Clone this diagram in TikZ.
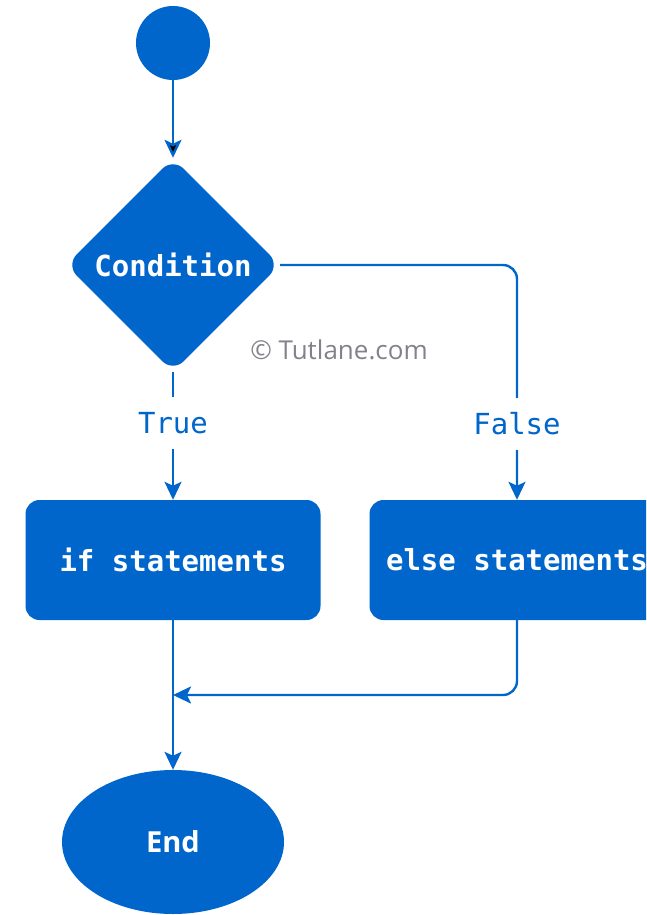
\documentclass[tikz,border=0pt]{standalone}
\usepackage{fontspec}
\usetikzlibrary{arrows.meta,shapes.geometric,positioning}
\newfontfamily\codefont{DejaVu Sans Mono}
\newfontfamily\plainfont{Open Sans}
\definecolor{flowblue}{HTML}{0066CC}
\definecolor{markgray}{HTML}{85818C}
\tikzset{
	block/.style={
		rectangle,
		rounded corners=14pt,
		fill=flowblue, text=white,
		minimum width=295pt, minimum height=120pt,
		inner sep=0pt,
		font=\codefont\bfseries\fontsize{29}{32}\selectfont,
	},
	decision/.style={
		diamond,
		rounded corners=15pt,
		fill=flowblue, text=white,
		minimum size=214pt, inner sep=0pt,
		font=\codefont\bfseries\fontsize{29}{32}\selectfont,
	},
	startdot/.style={
		circle, fill=flowblue,
		minimum size=74pt, inner sep=0pt,
	},
	stop/.style={
		ellipse, fill=flowblue, text=white,
		minimum width=222pt, minimum height=144pt, inner sep=0pt,
		font=\plainfont\bfseries\fontsize{29}{32}\selectfont,
	},
	branch/.style={
		fill=white, text=flowblue,
		inner xsep=2pt, inner ysep=15pt,
		font=\codefont\fontsize{29}{32}\selectfont,
	},
	watermark/.style={
		text=markgray,
		font=\plainfont\fontsize{26}{30}\selectfont,
	},
	flow/.style={
		draw=flowblue, line width=2.4pt,
		-{Stealth[length=18pt,width=17pt,inset=4pt]},
	},
	roundbend/.style={rounded corners=14pt},
}

\begin{document}
\begin{tikzpicture}[x=1pt,y=-1pt]
\useasboundingbox (0,0) rectangle (646,915);
\clip (0,0) rectangle (646,915);

\node	(start)		[startdot]	at (173,43)	{};
\node	(cond)		[decision]	at (173,265)	{Condition};
\node	(ifbox)		[block]		at (173,560)	{if statements};
\node	(elsebox)	[block]		at (517,560)	{else statements};
\node	(end)		[stop]		at (173,842)	{End};
\node	(mark)		[watermark]	at (339,350)	{© Tutlane.com};
\coordinate (join) at (173,695);

\path[flow] (start) edge (cond);
\draw[flow] (cond) -- node[branch, pos=0.4] {True} (ifbox);
\draw[flow] (cond.east) [roundbend] -| ([yshift=110pt]elsebox.north) [sharp corners]
	-- node[branch, pos=0.31] {False} (elsebox);
\draw[flow] (ifbox) -- (end);
\draw[flow] (elsebox) [roundbend] |- ([xshift=60pt]join) [sharp corners] -- (join);

\end{tikzpicture}
\end{document}
